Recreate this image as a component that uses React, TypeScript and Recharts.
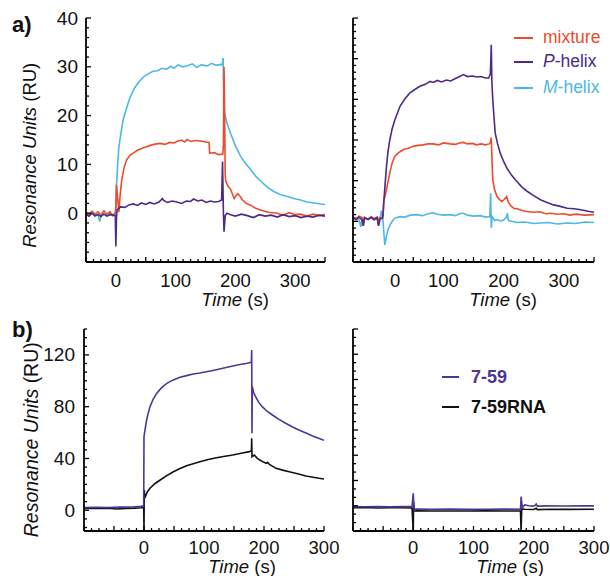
import React from "react";
import { LineChart, Line, XAxis, YAxis } from "recharts";

type Pt = [number, number];

const RED = "#ee4a2c";
const PURPLE = "#4d2a88";
const CYAN = "#4cb8e4";
const PURPLE_B = "#4e3597";
const BLACK = "#111111";
const FONT = "'Liberation Sans', Arial, Helvetica, sans-serif";

// ---- panel a), left ----
const tlMixture: Pt[] = [
  [-50, 0.2], [-45, -0.3], [-40, 0.4], [-35, -0.2], [-30, 0.3], [-25, -0.4], [-20, 0.5],
  [-15, -0.2], [-10, 0.3], [-5, -0.5], [-1, 0.2], [0, 1.5], [1, 5.8], [3, 3], [5, 0.2],
  [7, 3.5], [10, 7], [14, 9.5], [18, 10.9], [23, 11.8], [29, 12.3], [36, 12.9], [44, 13.3],
  [51, 13.6], [60, 14], [68, 14.2], [74, 14.3], [82, 14.1], [90, 14.5], [97, 14.4],
  [102, 14.7], [110, 15.0], [115, 14.6], [119, 15.1], [126, 14.7], [133, 14.9], [142, 14.8],
  [150, 14.6], [156, 14.5], [157, 12.3], [165, 12.4], [172, 12.0], [179, 12.1], [180, 14],
  [181, 30], [182, 20], [183, 8], [184, 6.5], [188, 5.5], [192, 4.9], [198, 3.0], [201, 3.6],
  [204, 4.0], [207, 3.6], [212, 2.7], [218, 2.0], [226, 1.6], [234, 1.0], [243, 0.6],
  [255, 0.2], [270, 0], [280, -0.4], [290, 0.1], [300, -0.3], [309, -0.2], [320, -0.6],
  [330, -0.2], [340, -0.5], [350, -0.3],
];
const tlPHelix: Pt[] = [
  [-50, -0.2], [-45, -0.6], [-40, 0], [-35, -0.5], [-30, -0.3], [-25, -0.7], [-20, -0.2],
  [-15, -0.6], [-10, -0.3], [-5, -0.4], [-1, -0.5], [0, -6.8], [1, -1], [2, 0.7], [5, 1.0],
  [8, 1.3], [15, 1.2], [22, 1.7], [29, 1.9], [36, 1.6], [43, 2.1], [50, 1.8], [57, 2.2],
  [64, 1.9], [72, 2.3], [78, 3.0], [80, 2.6], [86, 2.2], [94, 2.5], [102, 2.3], [110, 2.0],
  [118, 2.5], [125, 2.4], [130, 2.9], [137, 2.5], [144, 2.7], [151, 2.2], [158, 2.5],
  [165, 2.3], [172, 2.4], [177, 2.7], [178.5, 10.6], [180, 0], [181, -3.8], [183, -0.5],
  [186, 0], [192, -0.3], [200, -0.6], [210, -0.2], [220, -0.5], [230, -0.9], [240, -0.3],
  [250, -0.6], [260, -0.4], [270, -0.8], [280, -0.3], [290, -0.7], [300, -0.5], [310, -0.9],
  [320, -0.6], [330, -0.8], [340, -0.4], [350, -0.6],
];
const tlMHelix: Pt[] = [
  [-50, 0], [-45, -0.4], [-40, 0.2], [-35, -0.7], [-30, -0.2], [-27, -1.7], [-24, -0.3],
  [-20, -0.1], [-15, -0.5], [-10, 0.1], [-5, -0.5], [-1, -0.3], [0, 0.5], [1, 5.5], [3, 10],
  [5, 13.5], [8, 16], [12, 19], [17, 21.2], [23, 23.5], [31, 25.6], [39, 27], [47, 28],
  [55, 28.6], [62, 29.1], [70, 29.2], [77, 29.7], [85, 29.5], [92, 30.1], [97, 29.7],
  [104, 30.4], [112, 30.0], [120, 30.2], [128, 30.6], [135, 29.9], [143, 30.4], [153, 30.2],
  [160, 30.7], [168, 30.3], [175, 30.5], [178, 30.4], [179.5, 31.8], [180.5, 22], [182, 20.5],
  [186, 18.5], [192, 16.4], [200, 13.8], [209, 11.6], [217, 10.2], [226, 8.9], [234, 7.6],
  [243, 6.5], [254, 5.3], [265, 4.4], [276, 3.8], [287, 3.4], [298, 3.0], [309, 2.7],
  [320, 2.3], [332, 2.1], [343, 1.9], [350, 1.8],
];

// ---- panel a), right ----
const trMixture: Pt[] = [
  [-50, 0.3], [-45, -0.2], [-40, 0.4], [-35, 0.1], [-33, -1.6], [-31, 0.2], [-25, -0.3],
  [-20, 0.3], [-15, -0.1], [-10, 0.2], [-8, -1.5], [-6, 0.1], [-2, 0], [0, 0.5], [1, 3.5],
  [5, 5.5], [11, 9.2], [15, 11.3], [19, 12.6], [24, 13.2], [28, 13.6], [35, 14.1], [42, 14.3],
  [50, 14.7], [58, 14.9], [66, 15.0], [75, 15.2], [83, 15.2], [92, 15.0], [100, 15.4],
  [111, 15.2], [120, 15.1], [127, 15.4], [133, 15.5], [140, 15.2], [148, 15.3], [155, 15.0],
  [163, 15.2], [170, 15.0], [176, 15.2], [178, 15.5], [179.5, 16.5], [181, 11], [182, 7.8],
  [185, 5.8], [189, 4.4], [193, 3.8], [197, 3.4], [201, 3.8], [205, 4.4], [208, 3.2],
  [212, 2.5], [217, 2.0], [225, 1.8], [232, 1.5], [239, 1.35], [250, 1.2], [260, 1.3],
  [270, 0.9], [278, 1.0], [290, 0.8], [300, 0.9], [310, 0.6], [320, 0.8], [335, 0.6],
  [350, 0.7],
];
const trPHelix: Pt[] = [
  [-50, 0.1], [-45, -0.3], [-40, 0.2], [-35, -0.4], [-33, -1.6], [-31, 0], [-25, -0.2],
  [-20, 0.1], [-15, -0.3], [-10, 0.1], [-7.5, -1.6], [-5, -0.2], [-1, 0], [0, 1], [1, 3.1],
  [3, 6.5], [5.6, 10.6], [8, 13.5], [11, 16], [15, 18.3], [19.4, 20.1], [24, 21.6], [28, 22.9],
  [36, 24.4], [44, 25.6], [52, 26.3], [61, 27], [70, 27.4], [78, 28.0], [83, 27.8], [90, 28.2],
  [97, 27.9], [105, 28.3], [112, 28.1], [120, 28.6], [127, 29.0], [133, 29.4], [140, 29.0],
  [148, 29.1], [155.6, 28.9], [162, 29.0], [170, 28.7], [175, 28.7], [178, 29.5],
  [179.5, 35.5], [180.5, 28], [182, 24.2], [186, 17.4], [190, 15.2], [194.4, 13.3],
  [200, 11.6], [205.6, 10.2], [213, 8.8], [222, 7.5], [230, 6.4], [239, 5.5], [250, 4.6],
  [261, 3.75], [272, 3.2], [283, 2.7], [294, 2.4], [305.6, 2.0], [317, 1.9], [328, 1.7],
  [340, 1.4], [350, 1.2],
];
const trMHelix: Pt[] = [
  [-50, -0.2], [-45, 0.1], [-40, -0.4], [-37, -1.8], [-35, -0.2], [-30, 0], [-25, -0.3],
  [-20, 0.1], [-15, -0.4], [-10, -0.1], [-5, -0.2], [-3, 1.5], [-1, 0.5], [0, -1],
  [2.8, -5.5], [5, -4], [8, -2.4], [12, -1.3], [16, -0.5], [19.4, 0], [28, 0.3], [36, 0.2],
  [45, 0.6], [55.6, 0.7], [65, 0.5], [75, 0.9], [83, 1.1], [90, 0.8], [100, 0.6], [111, 0.7],
  [120, 0.5], [127, 0.9], [133, 1.0], [140, 0.6], [150, 0.4], [161, 0.5], [170, 0.2],
  [177, 0.3], [178.5, 5.1], [179.5, -2], [181, 0.3], [185, -0.5], [189, -0.3], [195, -0.6],
  [200, -0.4], [205, 0.2], [206, 1.0], [208, -0.5], [215, -0.7], [222, -0.9], [235, -0.8],
  [250, -1.1], [261, -1.0], [275, -0.9], [290, -1.2], [305, -1.0], [320, -1.1], [335, -0.8],
  [350, -0.9],
];

// ---- panel b), left ----
const blPeptide: Pt[] = [
  [-100, 2.2], [-80, 2.3], [-60, 2.1], [-40, 2.4], [-20, 2.5], [-5, 3], [-0.5, 3.5],
  [0, 56.8], [2, 63], [4.4, 69.7], [7, 75], [10, 80], [15, 85.5], [21, 90.3], [29, 94.5],
  [38, 98], [48, 100.5], [60, 102.7], [71, 104], [82, 105.2], [93, 106], [104, 107],
  [115, 108], [126, 109.1], [137, 110.2], [148, 111.4], [160, 112.6], [170, 113.4],
  [175.6, 114], [179, 114.3], [179.5, 123.8], [180, 59.5], [180.5, 95.4], [183, 90.5],
  [186, 87.7], [191, 83.5], [197, 80], [205, 76.5], [214, 73.6], [225, 70.2], [236, 67.2],
  [247, 64.5], [258, 62], [270, 59.6], [280, 57.6], [291, 55.6], [300, 54],
];
const blRna: Pt[] = [
  [-100, 1.5], [-80, 1.4], [-60, 1.6], [-45, 1.0], [-30, 1.5], [-15, 1.7], [-5, 2],
  [-0.5, 2.2], [0, -16], [0.5, 15.7], [1.5, 9.5], [3, 11.5], [6, 14.5], [10, 17], [18, 20.5],
  [27, 23.4], [38, 26.8], [49, 29.8], [60, 32.2], [71, 34.4], [82, 36], [93, 37.5],
  [107, 39.2], [121, 40.6], [135, 41.7], [148, 42.7], [162, 44], [175.6, 45.3], [179, 45.8],
  [179.5, 55.6], [180, 41.4], [184, 42.7], [188, 40.5], [193, 38.8], [199, 37.2], [204, 36.3],
  [206, 37], [209, 35.5], [220, 32.4], [231, 31], [242, 29.8], [256, 28.2], [270, 26.5],
  [282, 25.5], [292, 24.7], [300, 24.2],
];

// ---- panel b), right ----
const brPeptide: Pt[] = [
  [-100, 2.8], [-80, 2.7], [-60, 2.9], [-40, 2.6], [-20, 2.8], [-2, 2.9], [0, 13.1],
  [1.5, 0.2], [4, 0.9], [30, 0.8], [60, 0.9], [90, 0.7], [120, 0.8], [150, 0.9], [178, 0.8],
  [179, 10.5], [181, 2], [185, 4.1], [192, 3.5], [198, 3.2], [202, 3.6], [204, 4.9],
  [206, 3.2], [220, 3.4], [250, 3.3], [280, 3.5], [300, 3.4],
];
const brRna: Pt[] = [
  [-100, 2.0], [-80, 2.1], [-60, 1.8], [-40, 2.0], [-20, 1.9], [-2, 1.8], [0, -16],
  [0.5, 6], [1.5, -0.5], [5, -0.4], [30, -0.6], [60, -0.5], [90, -0.6], [120, -0.4],
  [150, -0.6], [178, -0.5], [179, -16], [180, 1], [185, 0.8], [200, 0.6], [204, 1.5],
  [206, 0.5], [230, 0.8], [260, 0.7], [300, 0.8],
];

// tick labels
const aTimeLabels = [0, 100, 200, 300];
const aRuLabels = [0, 10, 20, 30, 40];
const bTimeLabels = [0, 100, 200, 300];
const bRuLabels = [0, 40, 80, 120];

function steps(a: number, b: number, n: number) {
  const out: number[] = [];
  for (let i = 0; i <= n; i++) out.push(+(a + ((b - a) * i) / n).toFixed(4));
  return out;
}
const near = (list: number[], v: number) => list.some((m) => Math.abs(m - v) < 1e-3);

interface Box { x: number; y: number; w: number; h: number }
interface Series { data: Pt[]; color: string; width?: number }

interface PanelProps {
  region: Box;
  plot: Box;
  xDomain: [number, number];
  yDomain: [number, number];
  xTicks: number[];
  xMajor: number[];
  xLabels: number[];
  xGap: number;
  xShift?: Record<number, number>;
  yTicks: number[];
  yMajor: number[];
  yLabels: number[];
  yGap: number;
  series: Series[];
}

function Panel(p: PanelProps) {
  const { region, plot } = p;
  const xAxisH = 30;
  const margin = {
    top: plot.y - region.y,
    right: region.x + region.w - plot.x - plot.w,
    bottom: region.y + region.h - plot.y - plot.h - xAxisH,
    left: 0,
  };

  const xTick = (props: any) => {
    const { x, y, payload } = props;
    const v = payload.value;
    const len = near(p.xMajor, v) ? 5 : 3;
    const dx = p.xShift?.[v] ?? 0;
    return (
      <g>
        <line x1={x} x2={x} y1={y} y2={y - len} stroke="#000" strokeWidth={1.3} />
        {near(p.xLabels, v) && (
          <text x={x + dx} y={y + p.xGap} textAnchor="middle" dominantBaseline="central"
            fontSize={18.5} fontFamily={FONT} fill="#111">{v}</text>
        )}
      </g>
    );
  };

  const yTick = (props: any) => {
    const { x, y, payload } = props;
    const v = payload.value;
    const len = near(p.yMajor, v) ? 5 : 3;
    return (
      <g>
        <line x1={x} x2={x + len} y1={y} y2={y} stroke="#000" strokeWidth={1.3} />
        {near(p.yLabels, v) && (
          <text x={x - p.yGap} y={y} textAnchor="end" dominantBaseline="central"
            fontSize={19} fontFamily={FONT} fill="#111">{v}</text>
        )}
      </g>
    );
  };

  return (
    <div style={{ position: "absolute", left: region.x, top: region.y }}>
      <LineChart width={region.w} height={region.h} margin={margin}>
        <XAxis type="number" dataKey="t" domain={p.xDomain} ticks={p.xTicks} interval={0}
          allowDataOverflow tickSize={0} tickMargin={0} tickLine={false}
          axisLine={{ stroke: "#000", strokeWidth: 1.8 }} tick={xTick} height={xAxisH} />
        <YAxis type="number" domain={p.yDomain} ticks={p.yTicks} interval={0}
          allowDataOverflow tickSize={0} tickMargin={0} tickLine={false}
          axisLine={{ stroke: "#000", strokeWidth: 1.8 }} tick={yTick} width={plot.x - region.x} />
        {p.series.map((s, i) => (
          <Line key={i} data={s.data.map(([t, v]) => ({ t, v }))} dataKey="v" type="linear"
            stroke={s.color} strokeWidth={s.width ?? 1.6} dot={false} activeDot={false}
            isAnimationActive={false} />
        ))}
      </LineChart>
    </div>
  );
}

function Txt({ x, y, children, anchor = "start", size = 18.5, bold = false, color = "#111", rotate = false }: any) {
  const tx = anchor === "middle" ? "-50%" : "0";
  return (
    <div style={{
      position: "absolute", left: x, top: y - size / 2, height: size, lineHeight: `${size}px`,
      whiteSpace: "nowrap", fontFamily: FONT, fontSize: size, fontWeight: bold ? 700 : 400,
      color, transform: rotate ? "translate(-50%, 0) rotate(-90deg)" : `translate(${tx}, 0)`,
      transformOrigin: "50% 50%",
    }}>{children}</div>
  );
}

function Key({ x, y, color, w }: { x: number; y: number; color: string; w: number }) {
  return <div style={{ position: "absolute", left: x, top: y - 1.25, width: w, height: 2.5, background: color }} />;
}

export default function App() {
  const aXTicks = steps(-50, 350, 32);
  const aXMajor = steps(-50, 350, 8);
  const bXTicks = steps(-100, 300, 32);
  const bXMajor = steps(-100, 300, 8);

  return (
    <div style={{ position: "absolute", left: 0, top: 0, width: 610, height: 576, background: "#fff" }}>
      <Panel
        region={{ x: 0, y: 0, w: 340, h: 310 }}
        plot={{ x: 86, y: 18, w: 239, h: 244 }}
        xDomain={[-50, 350]} yDomain={[-10, 40]}
        xTicks={aXTicks} xMajor={aXMajor} xLabels={aTimeLabels} xGap={18.5}
        yTicks={steps(-10, 40, 25)} yMajor={steps(-10, 40, 5)} yLabels={aRuLabels} yGap={8}
        series={[
          { data: tlMHelix, color: CYAN },
          { data: tlMixture, color: RED },
          { data: tlPHelix, color: PURPLE },
        ]}
      />
      <Panel
        region={{ x: 340, y: 0, w: 270, h: 310 }}
        plot={{ x: 353, y: 18, w: 241, h: 244 }}
        xDomain={[-50, 350]} yDomain={[-9, 41]}
        xTicks={aXTicks} xMajor={aXMajor} xLabels={aTimeLabels} xGap={18.5} xShift={{ 0: 12 }}
        yTicks={steps(-9, 41, 36)} yMajor={steps(-9, 41, 6)} yLabels={[]} yGap={8}
        series={[
          { data: trMHelix, color: CYAN },
          { data: trMixture, color: RED },
          { data: trPHelix, color: PURPLE },
        ]}
      />
      <Panel
        region={{ x: 0, y: 310, w: 340, h: 266 }}
        plot={{ x: 84, y: 329, w: 240, h: 202 }}
        xDomain={[-100, 300]} yDomain={[-16, 140]}
        xTicks={bXTicks} xMajor={bXMajor} xLabels={bTimeLabels} xGap={16}
        yTicks={steps(-40 / 3, 140, 23)} yMajor={bRuLabels} yLabels={bRuLabels} yGap={9}
        series={[
          { data: blRna, color: BLACK },
          { data: blPeptide, color: PURPLE_B },
        ]}
      />
      <Panel
        region={{ x: 340, y: 310, w: 270, h: 266 }}
        plot={{ x: 353, y: 329, w: 241, h: 202 }}
        xDomain={[-100, 300]} yDomain={[-16, 140]}
        xTicks={bXTicks} xMajor={bXMajor} xLabels={bTimeLabels} xGap={16.5}
        yTicks={steps(-16, 140, 24)} yMajor={steps(-16, 140, 8)} yLabels={[]} yGap={9}
        series={[
          { data: brRna, color: BLACK },
          { data: brPeptide, color: PURPLE_B },
        ]}
      />

      {/* panel letters */}
      <Txt x={12} y={25} size={22} bold>a)</Txt>
      <Txt x={12} y={330} size={22} bold>b)</Txt>

      {/* axis titles */}
      <Txt x={30} y={155} size={18.5} rotate><i>Resonance Units</i> (RU)</Txt>
      <Txt x={31.5} y={440} size={19.5} rotate><i>Resonance Units</i> (RU)</Txt>
      <Txt x={235} y={300.5} anchor="middle"><i>Time</i> (s)</Txt>
      <Txt x={503} y={300.5} anchor="middle"><i>Time</i> (s)</Txt>
      <Txt x={242} y={567.5} anchor="middle"><i>Time</i> (s)</Txt>
      <Txt x={510} y={567.5} anchor="middle"><i>Time</i> (s)</Txt>

      {/* legend a) */}
      <Key x={514} y={38} w={19} color={RED} />
      <Txt x={543} y={38} size={17.5} color={RED}>mixture</Txt>
      <Key x={514} y={62} w={19} color={PURPLE} />
      <Txt x={543} y={62} size={17.5} color={PURPLE}><i>P</i>-helix</Txt>
      <Key x={514} y={88} w={19} color={CYAN} />
      <Txt x={543} y={88} size={17.5} color={CYAN}><i>M</i>-helix</Txt>

      {/* legend b) */}
      <Key x={442} y={377} w={17} color={PURPLE_B} />
      <Txt x={471} y={377} size={18} bold color={PURPLE_B}>7-59</Txt>
      <Key x={442} y={407} w={17} color={BLACK} />
      <Txt x={471} y={407} size={18} bold color={BLACK}>7-59RNA</Txt>
    </div>
  );
}
